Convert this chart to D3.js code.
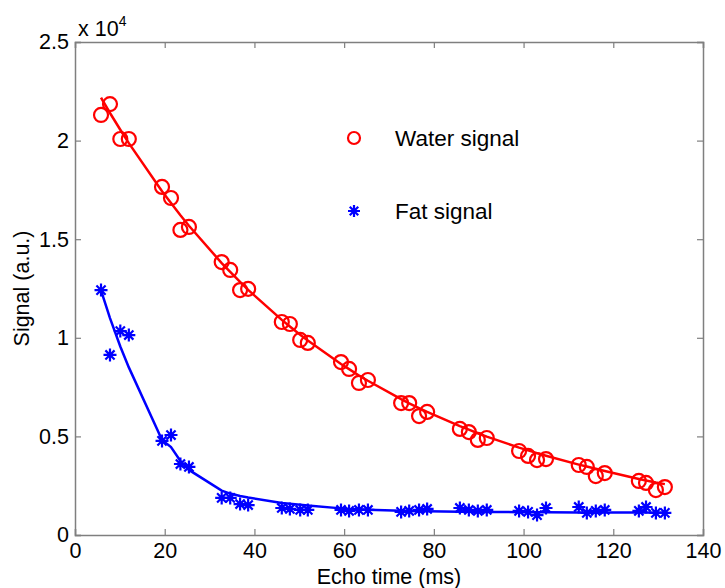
<!DOCTYPE html>
<html>
<head>
<meta charset="utf-8">
<script src="https://cdn.jsdelivr.net/npm/d3@7"></script>
<style>
  html, body { margin: 0; padding: 0; background: #fff; }
  svg { display: block; }
  text { font-family: "Liberation Sans", Arial, sans-serif; fill: #000; }
</style>
</head>
<body>
<svg id="chart" width="725" height="588"></svg>
<script>
// Echo times (ms), shared by both signals
const echoTimes = [
  5.8, 7.8, 10.1, 12.0,
  19.4, 21.4, 23.5, 25.4,
  32.7, 34.6, 36.8, 38.6,
  46.1, 47.9, 50.2, 51.9,
  59.3, 61.1, 63.3, 65.3,
  72.7, 74.5, 76.7, 78.5,
  85.8, 87.8, 89.8, 91.8,
  99.0, 101.0, 103.0, 105.0,
  112.3, 114.1, 116.1, 118.1,
  125.7, 127.3, 129.5, 131.5
];

// Measured water signal (a.u.)
const waterSignal = [
  21300, 21850, 20080, 20080,
  17650, 17090, 15470, 15620,
  13840, 13440, 12420, 12480,
  10800, 10700, 9890, 9740,
  8770, 8420, 7710, 7860,
  6690, 6690, 6030, 6240,
  5380, 5220, 4820, 4920,
  4260, 4010, 3800, 3850,
  3550, 3450, 2990, 3140,
  2740, 2640, 2280, 2430
];

// Measured fat signal (a.u.)
const fatSignal = [
  12420, 9130, 10340, 10140,
  4770, 5070, 3600, 3450,
  1880, 1880, 1570, 1520,
  1370, 1320, 1270, 1270,
  1270, 1220, 1270, 1270,
  1170, 1220, 1270, 1320,
  1370, 1270, 1220, 1270,
  1220, 1170, 1010, 1370,
  1420, 1120, 1220, 1270,
  1220, 1420, 1120, 1120
];

// Fitted decay curves at the same echo times
const waterFit = [
  22180, 21400, 20550, 19870,
  17430, 16830, 16210, 15680,
  13790, 13340, 12830, 12430,
  10910, 10570, 10150, 9860,
  8670, 8410, 8090, 7820,
  6890, 6680, 6440, 6240,
  5520, 5340, 5160, 4990,
  4430, 4290, 4150, 4020,
  3570, 3470, 3360, 3250,
  2840, 2760, 2660, 2580
];

const fatFit = [
  12400, 11000, 9560, 8500,
  4820, 4460, 3750, 3300,
  2250, 2100, 1980, 1900,
  1620, 1580, 1540, 1500,
  1350, 1320, 1300, 1280,
  1230, 1220, 1210, 1200,
  1180, 1175, 1170, 1165,
  1160, 1155, 1150, 1150,
  1145, 1140, 1140, 1140,
  1135, 1135, 1130, 1130
];

const xTicks = [0, 20, 40, 60, 80, 100, 120, 140];
const yTicks = [0, 5000, 10000, 15000, 20000, 25000];
const yTickLabels = ["0", "0.5", "1", "1.5", "2", "2.5"];
const seriesNames = ["Water signal", "Fat signal"];

const svg = d3.select("#chart");
const plotLeft = 75, plotRight = 703, plotTop = 42, plotBottom = 535;

const x = d3.scaleLinear().domain([0, 140]).range([plotLeft, plotRight]);
const y = d3.scaleLinear().domain([0, 25000]).range([plotBottom, plotTop]);

const axisColor = "#7f7f7f";
const tickLen = 6;
const labelSize = "21.5px";

// Box and inward ticks on all four sides
const axes = svg.append("g");
axes.append("g").attr("transform", `translate(0,${plotBottom})`)
  .call(d3.axisBottom(x).tickValues(xTicks).tickSize(-tickLen).tickPadding(8)
    .tickFormat(d3.format("d")));
axes.append("g").attr("transform", `translate(0,${plotTop})`)
  .call(d3.axisTop(x).tickValues(xTicks).tickSize(-tickLen).tickFormat(""));
axes.append("g").attr("transform", `translate(${plotLeft},0)`)
  .call(d3.axisLeft(y).tickValues(yTicks).tickSize(-tickLen).tickPadding(6)
    .tickFormat((d, i) => yTickLabels[i]));
axes.append("g").attr("transform", `translate(${plotRight},0)`)
  .call(d3.axisRight(y).tickValues(yTicks).tickSize(-tickLen).tickFormat(""));

axes.selectAll(".domain").attr("stroke", axisColor).attr("stroke-width", 1.5);
axes.selectAll(".tick line").attr("stroke", axisColor).attr("stroke-width", 1.2);
axes.selectAll(".tick text")
  .attr("fill", "#000")
  .style("font-size", labelSize)
  .style("font-family", '"Liberation Sans", Arial, sans-serif');

// Exponent label above the y axis
const expo = svg.append("text").attr("x", 78).attr("y", 36)
  .style("font-size", labelSize);
expo.append("tspan").text("x 10");
expo.append("tspan").attr("dy", -10).style("font-size", "14px").text("4");

// Axis titles
svg.append("text").attr("x", (plotLeft + plotRight) / 2).attr("y", 584)
  .attr("text-anchor", "middle").style("font-size", labelSize).text("Echo time (ms)");
svg.append("text").attr("transform", `translate(29,${(plotTop + plotBottom) / 2}) rotate(-90)`)
  .attr("text-anchor", "middle").style("font-size", labelSize).text("Signal (a.u.)");

const water = echoTimes.map((t, i) => ({ t, v: waterSignal[i], f: waterFit[i] }));
const fat = echoTimes.map((t, i) => ({ t, v: fatSignal[i], f: fatFit[i] }));

const fitLine = d3.line().x(d => x(d.t)).y(d => y(d.f));

// Asterisk marker: + overlaid with x
function asterisk(s) {
  const d = s * 0.707;
  return `M${-s},0L${s},0M0,${-s}L0,${s}M${-d},${-d}L${d},${d}M${-d},${d}L${d},${-d}`;
}

const plot = svg.append("g");

plot.append("path").datum(water).attr("d", fitLine)
  .attr("fill", "none").attr("stroke", "#ff0000").attr("stroke-width", 2.5);
plot.append("path").datum(fat).attr("d", fitLine)
  .attr("fill", "none").attr("stroke", "#0000ff").attr("stroke-width", 2.5);

plot.selectAll("circle.water").data(water).enter().append("circle")
  .attr("class", "water")
  .attr("cx", d => x(d.t)).attr("cy", d => y(d.v)).attr("r", 7)
  .attr("fill", "none").attr("stroke", "#ff0000").attr("stroke-width", 2.2);

plot.selectAll("path.fat").data(fat).enter().append("path")
  .attr("class", "fat")
  .attr("transform", d => `translate(${x(d.t)},${y(d.v)})`)
  .attr("d", asterisk(6.5))
  .attr("fill", "none").attr("stroke", "#0000ff").attr("stroke-width", 2.2);

// Legend
const legend = svg.append("g");
legend.append("circle").attr("cx", 354).attr("cy", 138).attr("r", 6)
  .attr("fill", "none").attr("stroke", "#ff0000").attr("stroke-width", 2.2);
legend.append("text").attr("x", 395).attr("y", 146).style("font-size", "22.5px").text(seriesNames[0]);
legend.append("path").attr("transform", "translate(354,211)").attr("d", asterisk(6))
  .attr("fill", "none").attr("stroke", "#0000ff").attr("stroke-width", 2.2);
legend.append("text").attr("x", 395).attr("y", 219).style("font-size", "22.5px").text(seriesNames[1]);
</script>
</body>
</html>
